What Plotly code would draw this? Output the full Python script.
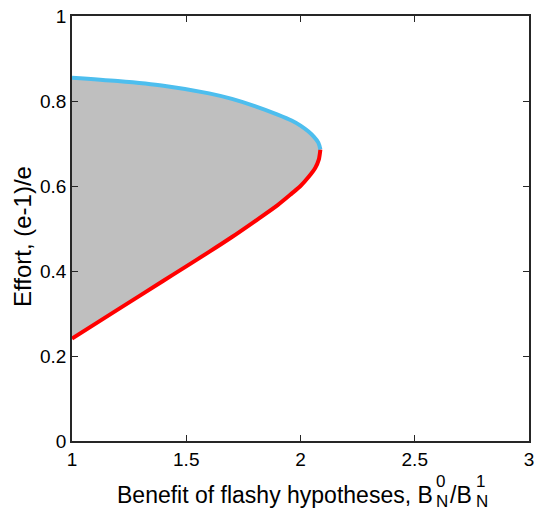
import plotly.graph_objects as go

# Upper branch (blue), from x=1 to the turning point
blue_x = [1.0, 1.2, 1.4, 1.6, 1.7, 1.8, 1.9, 1.961, 2.0, 2.035, 2.058, 2.078, 2.087]
blue_y = [0.855, 0.847, 0.836, 0.818, 0.805, 0.788, 0.768, 0.754, 0.742, 0.728, 0.716, 0.702, 0.686]
# Lower branch (red), from the turning point back to x=1
red_x = [2.087, 2.080, 2.065, 2.035, 2.0, 1.961, 1.9, 1.8, 1.7, 1.6, 1.5, 1.4, 1.2, 1.0]
red_y = [0.686, 0.662, 0.643, 0.621, 0.600, 0.582, 0.555, 0.517, 0.480, 0.445, 0.411, 0.377, 0.309, 0.241]

x_ticks = [1, 1.5, 2, 2.5, 3]
x_tick_text = ["1", "1.5", "2", "2.5", "3"]
y_ticks = [0, 0.2, 0.4, 0.6, 0.8, 1]
y_tick_text = ["0", "0.2", "0.4", "0.6", "0.8", "1"]

FONT = "Liberation Sans, Arial, Helvetica, sans-serif"
W, H = 540, 514
L, R, T, B = 72, 6, 15, 73
PW, PH = W - L - R, H - T - B


def px(xp):
    return (xp - L) / PW


def py(yp):
    return (H - B - yp) / PH


fig = go.Figure()
fig.add_trace(go.Scatter(
    x=blue_x + red_x[1:], y=blue_y + red_y[1:],
    mode="lines", fill="toself", fillcolor="#bfbfbf",
    line=dict(width=0, color="#bfbfbf", shape="spline", smoothing=0.8),
    hoverinfo="skip", showlegend=False))
fig.add_trace(go.Scatter(x=red_x, y=red_y, mode="lines",
                         line=dict(color="#ff0000", width=4, shape="spline", smoothing=0.8),
                         showlegend=False))
fig.add_trace(go.Scatter(x=blue_x, y=blue_y, mode="lines",
                         line=dict(color="#4dbeee", width=4, shape="spline", smoothing=0.8),
                         showlegend=False))

axis_common = dict(showgrid=False, zeroline=False, showline=True, mirror="ticks",
                   linecolor="#262626", linewidth=1.5, ticks="inside", ticklen=6,
                   tickwidth=1.2, tickcolor="#262626",
                   tickfont=dict(family=FONT, size=19, color="black"))
fig.update_xaxes(range=[1, 3], tickvals=x_ticks, ticktext=x_tick_text, **axis_common)
fig.update_yaxes(range=[0, 1], tickvals=y_ticks, ticktext=y_tick_text, **axis_common)

anns = []
anns.append(dict(text="Benefit of flashy hypotheses, B", x=px(115), y=py(495),
                 xanchor="left", yanchor="middle", font=dict(size=23)))
anns.append(dict(text="0", x=px(445), y=py(482), xanchor="center", yanchor="middle",
                 font=dict(size=17)))
anns.append(dict(text="N", x=px(446), y=py(502), xanchor="center", yanchor="middle",
                 font=dict(size=17)))
anns.append(dict(text="/B", x=px(452), y=py(495), xanchor="left", yanchor="middle",
                 font=dict(size=23)))
anns.append(dict(text="1", x=px(485), y=py(482), xanchor="center", yanchor="middle",
                 font=dict(size=17)))
anns.append(dict(text="N", x=px(486), y=py(502), xanchor="center", yanchor="middle",
                 font=dict(size=17)))
anns.append(dict(text="Effort, (e-1)/e", x=px(22), y=py(236), xanchor="center",
                 yanchor="middle", textangle=-90, font=dict(size=24)))
for a in anns:
    a.update(xref="paper", yref="paper", showarrow=False)
    a["font"].update(family=FONT, color="black")

fig.update_layout(width=W, height=H, margin=dict(l=L, r=R, t=T, b=B),
                  paper_bgcolor="white", plot_bgcolor="white", annotations=anns)

fig.write_html("out.html")
